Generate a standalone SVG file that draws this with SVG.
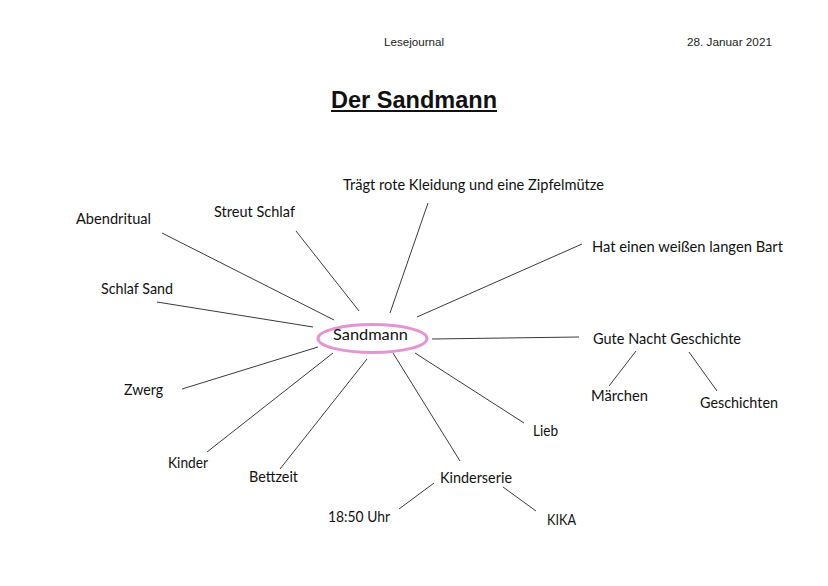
<svg xmlns="http://www.w3.org/2000/svg" width="828" height="586" viewBox="0 0 828 586">
<style>
.hdr{font-family:"Liberation Sans",Arial,sans-serif;font-size:11.6px;fill:#222}
.ttl{font-family:"Liberation Sans",Arial,sans-serif;font-size:23.5px;font-weight:bold;fill:#111}
.lbl{font-family:Lato,"Open Sans",sans-serif;font-size:15px;fill:#111}
.c line{stroke:#3a3a3a;stroke-width:1}
</style>
<rect width="828" height="586" fill="#fff"/>
<text class="hdr" x="384" y="46" textLength="60" lengthAdjust="spacingAndGlyphs">Lesejournal</text>
<text class="hdr" x="687" y="46" textLength="85" lengthAdjust="spacingAndGlyphs">28. Januar 2021</text>
<text class="ttl" x="331" y="108" textLength="166" lengthAdjust="spacingAndGlyphs">Der Sandmann</text>
<line x1="331" y1="111" x2="497" y2="111" stroke="#111" stroke-width="2"/>
<g class="c" id="connectors">
<line x1="162" y1="233" x2="334" y2="320"/>
<line x1="296" y1="231" x2="359" y2="311"/>
<line x1="428" y1="203" x2="390" y2="313"/>
<line x1="157" y1="302" x2="313" y2="327"/>
<line x1="582" y1="244" x2="417" y2="317"/>
<line x1="432" y1="339" x2="579" y2="337"/>
<line x1="182" y1="389" x2="318" y2="347"/>
<line x1="207" y1="452" x2="333" y2="353"/>
<line x1="280" y1="469" x2="367" y2="359"/>
<line x1="393" y1="353" x2="460" y2="461"/>
<line x1="415" y1="353" x2="524" y2="423"/>
<line x1="399" y1="509" x2="434" y2="483"/>
<line x1="503" y1="487" x2="536" y2="511"/>
<line x1="609" y1="386" x2="636" y2="351"/>
<line x1="689" y1="352" x2="717" y2="391"/>
</g>
<g id="center">
<ellipse cx="372.5" cy="338.5" rx="54.5" ry="14" fill="none" stroke="#e594d3" stroke-width="3"/>
<text class="lbl" x="333" y="340" textLength="75" lengthAdjust="spacingAndGlyphs">Sandmann</text>
</g>
<g id="n-abendritual"><text class="lbl" x="76" y="224" textLength="75" lengthAdjust="spacingAndGlyphs">Abendritual</text></g>
<g id="n-streut"><text class="lbl" x="214" y="217" textLength="81" lengthAdjust="spacingAndGlyphs">Streut Schlaf</text></g>
<g id="n-traegt"><text class="lbl" x="343" y="190" textLength="261" lengthAdjust="spacingAndGlyphs">Trägt rote Kleidung und eine Zipfelmütze</text></g>
<g id="n-schlafsand"><text class="lbl" x="101" y="294" textLength="72" lengthAdjust="spacingAndGlyphs">Schlaf Sand</text></g>
<g id="n-bart"><text class="lbl" x="592" y="252" textLength="191" lengthAdjust="spacingAndGlyphs">Hat einen weißen langen Bart</text></g>
<g id="n-gutenacht"><text class="lbl" x="593" y="344" textLength="148" lengthAdjust="spacingAndGlyphs">Gute Nacht Geschichte</text></g>
<g id="n-maerchen"><text class="lbl" x="591" y="401" textLength="57" lengthAdjust="spacingAndGlyphs">Märchen</text></g>
<g id="n-geschichten"><text class="lbl" x="700" y="408" textLength="78" lengthAdjust="spacingAndGlyphs">Geschichten</text></g>
<g id="n-zwerg"><text class="lbl" x="124" y="395" textLength="39" lengthAdjust="spacingAndGlyphs">Zwerg</text></g>
<g id="n-kinder"><text class="lbl" x="168" y="468" textLength="40" lengthAdjust="spacingAndGlyphs">Kinder</text></g>
<g id="n-bettzeit"><text class="lbl" x="249" y="482" textLength="49" lengthAdjust="spacingAndGlyphs">Bettzeit</text></g>
<g id="n-kinderserie"><text class="lbl" x="440" y="483" textLength="72" lengthAdjust="spacingAndGlyphs">Kinderserie</text></g>
<g id="n-lieb"><text class="lbl" x="533" y="436" textLength="25" lengthAdjust="spacingAndGlyphs">Lieb</text></g>
<g id="n-uhr"><text class="lbl" x="328" y="522" textLength="62" lengthAdjust="spacingAndGlyphs">18:50 Uhr</text></g>
<g id="n-kika"><text class="lbl" x="547" y="525" textLength="29" lengthAdjust="spacingAndGlyphs">KIKA</text></g>
</svg>
